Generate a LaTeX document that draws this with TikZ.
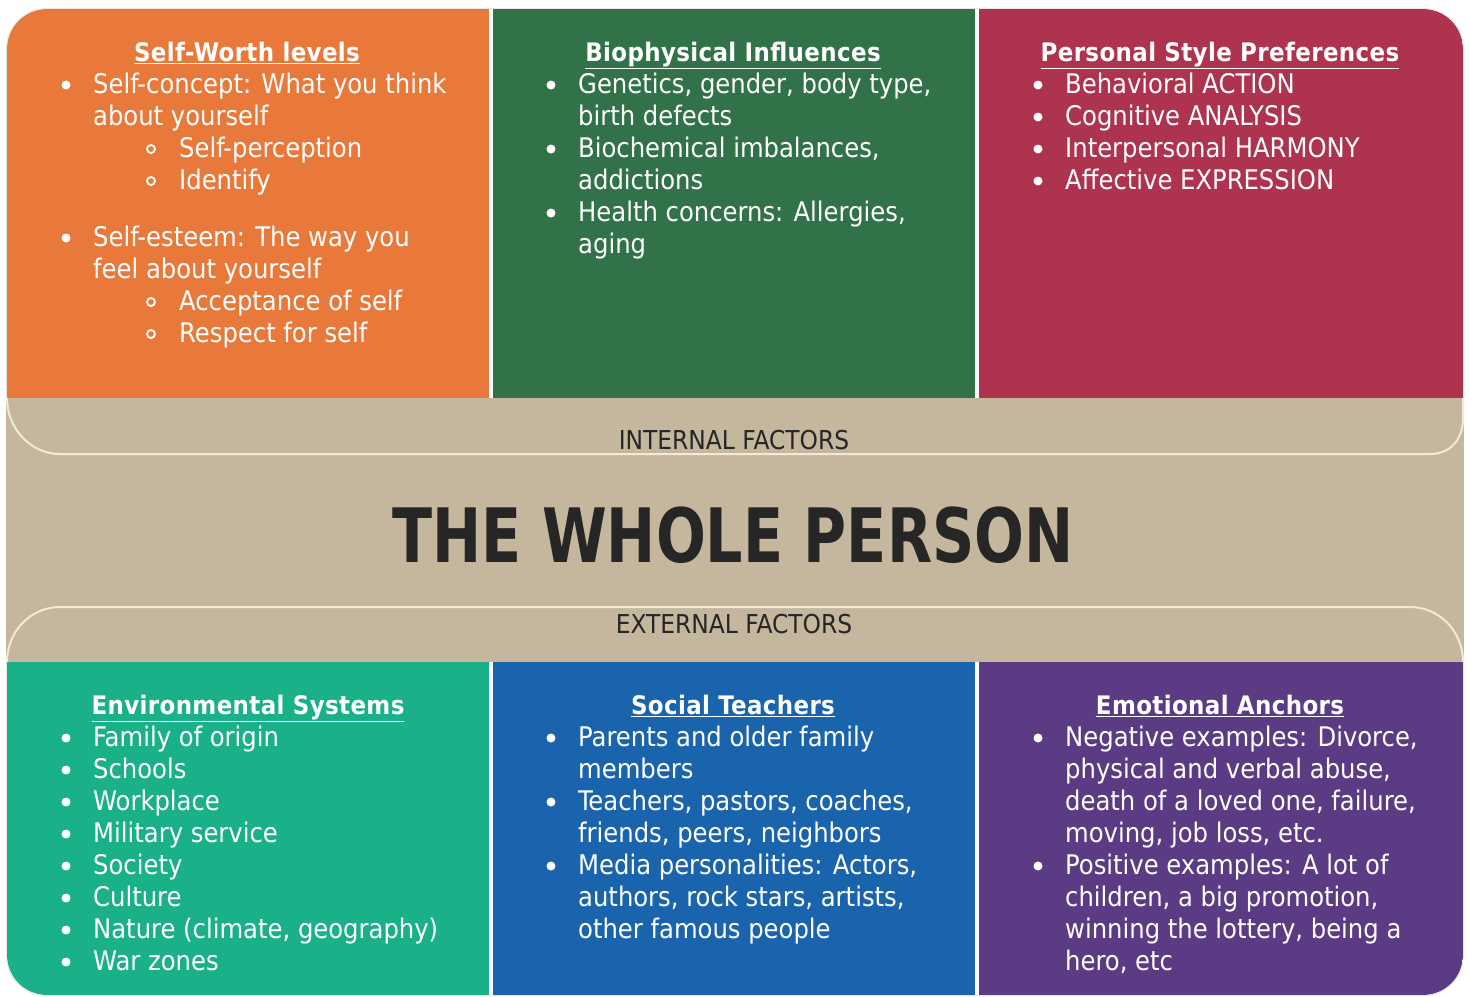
\documentclass[tikz,border=0pt]{standalone}
\usepackage{fontspec}
\setmainfont{DejaVu Sans Condensed}
\definecolor{orangeP}{HTML}{E8793A}
\definecolor{greenP}{HTML}{327248}
\definecolor{redP}{HTML}{AD334E}
\definecolor{tealP}{HTML}{1AB08A}
\definecolor{blueP}{HTML}{1A64AE}
\definecolor{purpleP}{HTML}{5A3B84}
\definecolor{beige}{HTML}{C5B79E}
\definecolor{cream}{HTML}{F2E9D6}
\definecolor{darktext}{HTML}{262626}
\tikzset{
  body/.style={anchor=base west, inner sep=0pt, text=white, font=\fontsize{27}{32}\selectfont},
  head/.style={anchor=base, inner sep=0pt, text=white, font=\fontsize{25.5}{32}\selectfont\bfseries\addfontfeature{LetterSpace=1.5}},
  band/.style={anchor=base, inner sep=0pt, text=darktext, font=\fontsize{26}{30}\selectfont},
  dot/.style={circle, fill=white, inner sep=0pt, minimum size=9pt},
  ring/.style={circle, draw=white, line width=1.8pt, inner sep=0pt, minimum size=8pt},
  curve/.style={draw=cream, line width=2pt}
}
\newcommand\hd[1]{\underline{#1}}
\begin{document}
\begin{tikzpicture}[x=1pt,y=-1pt]
\useasboundingbox (0,0) rectangle (1469,996);
\fill[white] (0,0) rectangle (1469,996);
% coloured panels inside the rounded outline
\begin{scope}
\clip[rounded corners=40pt] (7,9) rectangle (1463,995);
\fill[orangeP] (7,9) rectangle (489,398);
\fill[greenP] (493,9) rectangle (975,398);
\fill[redP] (979,9) rectangle (1463,398);
\fill[tealP] (7,662) rectangle (489,995);
\fill[blueP] (493,662) rectangle (975,995);
\fill[purpleP] (979,662) rectangle (1463,995);
\end{scope}
\draw[black!10, line width=0.8pt, rounded corners=40pt] (6.5,8.5) rectangle (1463.5,995.5);
% central band
\fill[beige] (6,398) rectangle (1464,662);
\coordinate (tl) at (7,398);
\coordinate (tr) at (1463,398);
\coordinate (bl) at (7,662);
\coordinate (br) at (1463,662);
\draw[curve] (tl) .. controls (7,429) and (31,454) .. (60,454) -- (1430,454)
  .. controls (1450,454) and (1463,440) .. (1463,418) -- (tr);
\draw[curve] (bl) .. controls (7,631) and (31,607) .. (60,607) -- (1410,607)
  .. controls (1439,607) and (1463,631) .. (br);
\node[band] (internal) at (734,449) {INTERNAL FACTORS};
\node[band] (external) at (734,633) {EXTERNAL FACTORS};
\node[anchor=base, inner sep=0pt, text=darktext] (title) at (733,562)
  {\scalebox{0.87}[1]{\fontsize{75}{80}\selectfont\bfseries THE WHOLE PERSON}};
% Self-Worth levels
\node[head] (h1) at (247,61) {\hd{Self-Worth levels}};
\node[dot] (b11) at (66,85) {};
\node[body] (t11a) at (93,93.5) {Self-concept: What you think};
\node[body] (t11b) at (93,125.5) {about yourself};
\node[ring] (r11) at (151,149) {};
\node[body] (t11c) at (179,157.5) {Self-perception};
\node[ring] (r12) at (151,181) {};
\node[body] (t11d) at (179,189.5) {Identify};
\node[dot] (b12) at (66,238) {};
\node[body] (t12a) at (93,246.5) {Self-esteem: The way you};
\node[body] (t12b) at (93,278.5) {feel about yourself};
\node[ring] (r13) at (151,302) {};
\node[body] (t12c) at (179,310.5) {Acceptance of self};
\node[ring] (r14) at (151,334) {};
\node[body] (t12d) at (179,342.5) {Respect for self};
% Biophysical Influences
\node[head] (h2) at (733,61) {\hd{Biophysical Influences}};
\node[dot] (b21) at (551,85) {};
\node[body] (t21a) at (578,93.5) {Genetics, gender, body type,};
\node[body] (t21b) at (578,125.5) {birth defects};
\node[dot] (b22) at (551,149) {};
\node[body] (t22a) at (578,157.5) {Biochemical imbalances,};
\node[body] (t22b) at (578,189.5) {addictions};
\node[dot] (b23) at (551,213) {};
\node[body] (t23a) at (578,221.5) {Health concerns: Allergies,};
\node[body] (t23b) at (578,253.5) {aging};
% Personal Style Preferences
\node[head] (h3) at (1220,61) {\hd{Personal Style Preferences}};
\node[dot] (b31) at (1038,85) {};
\node[body] (t31) at (1065,93.5) {Behavioral ACTION};
\node[dot] (b32) at (1038,117) {};
\node[body] (t32) at (1065,125.5) {Cognitive ANALYSIS};
\node[dot] (b33) at (1038,149) {};
\node[body] (t33) at (1065,157.5) {Interpersonal HARMONY};
\node[dot] (b34) at (1038,181) {};
\node[body] (t34) at (1065,189.5) {Affective EXPRESSION};
% Environmental Systems
\node[head] (h4) at (248,714) {\hd{Environmental Systems}};
\foreach \t [count=\i from 0] in {Family of origin, Schools, Workplace, Military service, Society, Culture, {Nature (climate, geography)}, War zones}{
  \node[dot] (b4\i) at (66,738+32*\i) {};
  \node[body] (t4\i) at (93,746.5+32*\i) {\t};
}
% Social Teachers
\node[head] (h5) at (733,714) {\hd{Social Teachers}};
\node[dot] (b51) at (551,738) {};
\node[dot] (b52) at (551,802) {};
\node[dot] (b53) at (551,866) {};
\foreach \t [count=\i from 0] in {Parents and older family, members, {Teachers, pastors, coaches,}, {friends, peers, neighbors}, {Media personalities: Actors,}, {authors, rock stars, artists,}, other famous people}{
  \node[body] (t5\i) at (578,746.5+32*\i) {\t};
}
% Emotional Anchors
\node[head] (h6) at (1220,714) {\hd{Emotional Anchors}};
\node[dot] (b61) at (1038,738) {};
\node[dot] (b62) at (1038,866) {};
\foreach \t [count=\i from 0] in {{Negative examples: Divorce,}, {physical and verbal abuse,}, {death of a loved one, failure,}, {moving, job loss, etc.}, {Positive examples: A lot of}, {children, a big promotion,}, {winning the lottery, being a}, {hero, etc}}{
  \node[body] (t6\i) at (1065,746.5+32*\i) {\t};
}
\end{tikzpicture}
\end{document}
